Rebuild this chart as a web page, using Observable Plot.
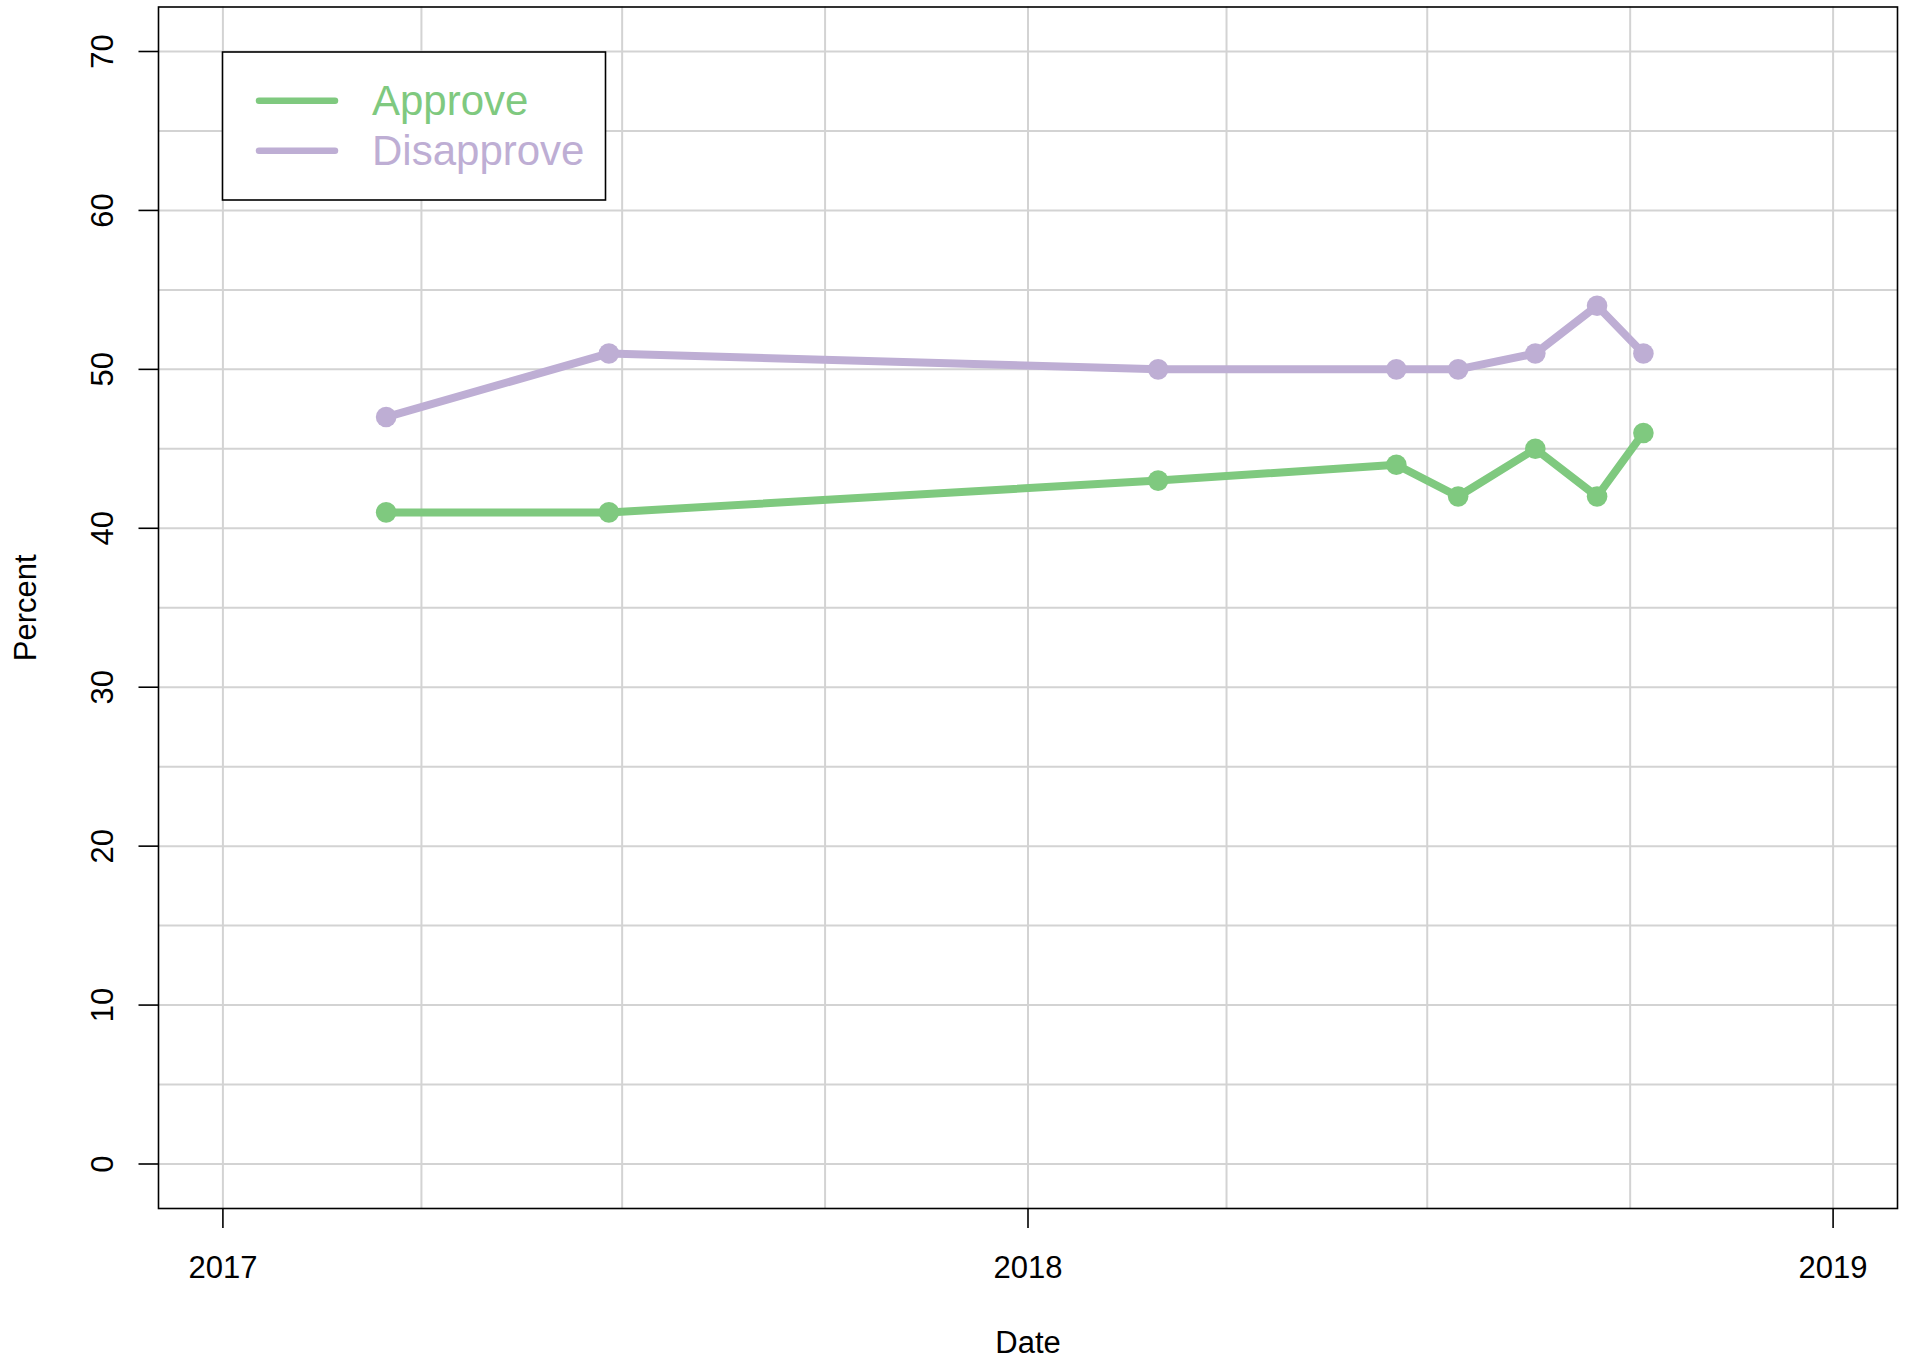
<!DOCTYPE html>
<html>
<head>
<meta charset="utf-8">
<script src="https://cdn.jsdelivr.net/npm/d3@7"></script>
<script src="https://cdn.jsdelivr.net/npm/@observablehq/plot@0.6"></script>
<style>
  html, body { margin: 0; padding: 0; background: #fff; }
  #wrap { position: relative; width: 1907px; height: 1359px; font-family: "Liberation Sans", Arial, sans-serif; }
  #legend { position: absolute; left: 0; top: 0; pointer-events: none; }
</style>
</head>
<body>
<div id="wrap"></div>
<script>
// ---- data ----
const pollDates   = ["2017-03-16", "2017-06-25", "2018-03-01", "2018-06-17", "2018-07-15", "2018-08-19", "2018-09-16", "2018-10-07"];
const approve     = [41, 41, 43, 44, 42, 45, 42, 46];
const disapprove  = [47, 51, 50, 50, 50, 51, 54, 51];
const seriesNames = ["Approve", "Disapprove"];
const seriesColors = ["#7FC97F", "#BEAED4"];
const xTickLabels = ["2017", "2018", "2019"];
const yTicks      = [0, 10, 20, 30, 40, 50, 60, 70];
const xLimits     = ["2017-01-01", "2019-01-01"];
const yLimits     = [0, 70];

// ---- build table ----
const parse = d3.utcParse("%Y-%m-%d");
const rows = [];
pollDates.forEach((d, i) => {
  rows.push({date: parse(d), value: approve[i], series: seriesNames[0]});
  rows.push({date: parse(d), value: disapprove[i], series: seriesNames[1]});
});

// R-style 4% axis expansion
const x0 = parse(xLimits[0]), x1 = parse(xLimits[1]);
const xs = (x1 - x0) * 0.04;
const xDomain = [new Date(+x0 - xs), new Date(+x1 + xs)];
const ys = (yLimits[1] - yLimits[0]) * 0.04;
const yDomain = [yLimits[0] - ys, yLimits[1] + ys];

const xTickDates = xTickLabels.map(y => parse(y + "-01-01"));
const xGrid = d3.utcMonth.every(3).range(x0, new Date(+x1 + 1));
const yGrid = d3.range(yLimits[0], yLimits[1] + 1, 5);

const fontSize = 31;

const chart = Plot.plot({
  width: 1907,
  height: 1359,
  marginLeft: 158,
  marginRight: 10,
  marginTop: 6.5,
  marginBottom: 151,
  style: {fontFamily: '"Liberation Sans", Arial, sans-serif', color: "black", background: "white", overflow: "visible"},
  x: {type: "utc", domain: xDomain},
  y: {domain: yDomain},
  color: {domain: seriesNames, range: seriesColors},
  marks: [
    Plot.ruleX(xGrid, {stroke: "#d3d3d3", strokeWidth: 2}),
    Plot.ruleY(yGrid, {stroke: "#d3d3d3", strokeWidth: 2}),
    Plot.line(rows, {x: "date", y: "value", z: "series", stroke: "series", strokeWidth: 8, strokeLinejoin: "round", strokeLinecap: "round"}),
    Plot.dot(rows, {x: "date", y: "value", fill: "series", r: 10.3}),
    Plot.frame({stroke: "black", strokeWidth: 1.6}),
    Plot.axisX(xTickDates, {tickSize: 20, tickPadding: 27, tickFormat: (d, i) => xTickLabels[i], fontSize, strokeWidth: 1.6, label: null}),
    Plot.axisY(yTicks, {tickSize: 19.5, tickPadding: 26.5, tickRotate: -90, fontSize, strokeWidth: 1.6, label: null}),
    Plot.text(["Date"], {frameAnchor: "bottom", dy: 144.4, lineAnchor: "bottom", textAnchor: "middle", fontSize}),
    Plot.text(["Percent"], {frameAnchor: "left", dx: -123, rotate: -90, lineAnchor: "bottom", textAnchor: "middle", fontSize})
  ]
});
document.getElementById("wrap").appendChild(chart);

// ---- legend (drawn over the plot area, as in the reference) ----
const leg = d3.select("#wrap").append("svg")
  .attr("id", "legend")
  .attr("width", 1907).attr("height", 1359);
leg.append("rect")
  .attr("x", 222.5).attr("y", 52).attr("width", 383).attr("height", 148)
  .attr("fill", "white").attr("stroke", "black").attr("stroke-width", 1.6);
seriesNames.forEach((name, i) => {
  const cy = 100.7 + i * 50;
  leg.append("line")
    .attr("x1", 259).attr("x2", 335).attr("y1", cy).attr("y2", cy)
    .attr("stroke", seriesColors[i]).attr("stroke-width", 6.5).attr("stroke-linecap", "round");
  leg.append("text")
    .attr("x", 372).attr("y", cy + 14.5)
    .attr("fill", seriesColors[i])
    .attr("font-size", 42)
    .attr("font-family", '"Liberation Sans", Arial, sans-serif')
    .text(name);
});
</script>
</body>
</html>
